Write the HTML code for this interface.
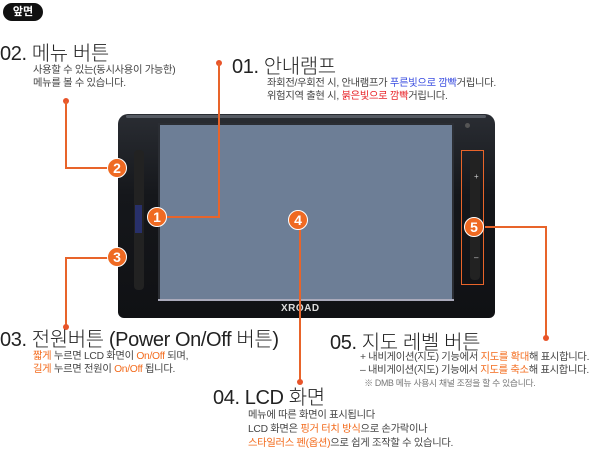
<!DOCTYPE html>
<html><head><meta charset="utf-8"><style>
*{margin:0;padding:0}
body{width:601px;height:467px;background:#fff;position:relative;overflow:hidden;font-family:"Liberation Sans","Noto Sans CJK KR",sans-serif;color:#444}
.a{position:absolute;white-space:nowrap}
.t{font-size:20px;color:#222;font-weight:300;letter-spacing:-0.4px}
.s{font-size:10.3px;line-height:13px;color:#444;letter-spacing:-0.3px}
.o{color:#f36c1e}.b{color:#3b4ee0}.r{color:#e8262b}
.l{position:absolute;background:#e8642a}
.d{position:absolute;width:6px;height:6px;border-radius:50%;background:#e8542a}
.n{position:absolute;width:18px;height:18px;border-radius:50%;background:#ef6a22;color:#fff;font-weight:bold;font-size:14px;line-height:18px;text-align:center;border:1px solid #fff}
</style></head><body>
<div class="a" style="left:3px;top:3px;width:40px;height:18px;background:#111;border-radius:9px;color:#fff;font-size:11px;font-weight:bold;line-height:18px;text-align:center">앞면</div>

<div class="a t" style="left:0;top:37px">02. 메뉴 버튼</div>
<div class="a s" style="left:33px;top:64px">사용할 수 있는(동시사용이 가능한)<br>메뉴를 볼 수 있습니다.</div>

<div class="a t" style="left:232px;top:50px">01. 안내램프</div>
<div class="a s" style="left:267px;top:77px">좌회전/우회전 시, 안내램프가 <span class="b">푸른빛으로 깜빡</span>거립니다.<br>위험지역 출현 시, <span class="r">붉은빛으로 깜빡</span>거립니다.</div>

<!-- device -->
<div class="a" style="left:118px;top:114px;width:377px;height:204px;background:linear-gradient(#2a2d33,#15171b 40%,#101114);border-radius:10px 10px 6px 6px"></div>
<div class="a" style="left:126px;top:115px;width:360px;height:3px;background:#555a62;border-radius:2px"></div>
<div class="a" style="left:158px;top:123px;width:296px;height:178px;background:#6d7e96;border:2px solid #2b2e34;box-sizing:border-box"></div>
<div class="a" style="left:158px;top:299px;width:296px;height:2px;background:#aab"></div>
<div class="a" style="left:281px;top:303px;color:#ddd;font-size:10px;font-weight:bold;letter-spacing:0.5px">XROAD</div>
<div class="a" style="left:134px;top:150px;width:10px;height:140px;background:#222;border-radius:4px"></div>
<div class="a" style="left:135px;top:205px;width:7px;height:28px;background:#28306a"></div>
<div class="a" style="left:470px;top:155px;width:10px;height:125px;background:#222;border-radius:4px"></div>
<div class="a" style="left:465px;top:123px;width:5px;height:5px;border-radius:50%;background:#555"></div>
<div class="a" style="left:474px;top:172px;color:#ccc;font-size:8px">+</div>
<div class="a" style="left:474px;top:253px;color:#ccc;font-size:8px">–</div>
<div class="a" style="left:461px;top:150px;width:23px;height:135px;border:1px solid #e8642a;box-sizing:border-box"></div>

<!-- connectors -->
<div class="d" style="left:63px;top:98px"></div>
<div class="l" style="left:65px;top:101px;width:2px;height:68px"></div>
<div class="l" style="left:65px;top:167px;width:45px;height:2px"></div>
<div class="d" style="left:216px;top:60px"></div>
<div class="l" style="left:218px;top:63px;width:2px;height:155px"></div>
<div class="l" style="left:165px;top:216px;width:55px;height:2px"></div>
<div class="l" style="left:65px;top:257px;width:45px;height:2px"></div>
<div class="l" style="left:65px;top:257px;width:2px;height:70px"></div>
<div class="d" style="left:63px;top:324px"></div>
<div class="l" style="left:299px;top:225px;width:2px;height:156px"></div>
<div class="d" style="left:297px;top:379px"></div>
<div class="l" style="left:485px;top:226px;width:61px;height:2px"></div>
<div class="l" style="left:545px;top:226px;width:2px;height:112px"></div>
<div class="d" style="left:543px;top:335px"></div>

<div class="n" style="left:107px;top:158px">2</div>
<div class="n" style="left:107px;top:247px">3</div>
<div class="n" style="left:147px;top:207px">1</div>
<div class="n" style="left:288px;top:210px">4</div>
<div class="n" style="left:464px;top:217px">5</div>

<div class="a t" style="left:0;top:323px">03. 전원버튼 (Power On/Off 버튼)</div>
<div class="a s" style="left:33px;top:350px"><span class="o">짧게</span> 누르면 LCD 화면이 <span class="o">On/Off</span> 되며,<br><span class="o">길게</span> 누르면 전원이 <span class="o">On/Off</span> 됩니다.</div>

<div class="a t" style="left:330px;top:326px">05. 지도 레벨 버튼</div>
<div class="a s" style="left:360px;top:351px">+ 내비게이션(지도) 기능에서 <span class="o">지도를 확대</span>해 표시합니다.<br>– 내비게이션(지도) 기능에서 <span class="o">지도를 축소</span>해 표시합니다.<br><span style="font-size:8.8px;color:#777">&nbsp;&nbsp;※ DMB 메뉴 사용시 채널 조정을 할 수 있습니다.</span></div>

<div class="a t" style="left:213px;top:381px">04. LCD 화면</div>
<div class="a s" style="left:248px;top:409px;line-height:14px">메뉴에 따른 화면이 표시됩니다<br>LCD 화면은 <span class="o">핑거 터치 방식</span>으로 손가락이나<br><span class="o">스타일러스 펜(옵션)</span>으로 쉽게 조작할 수 있습니다.</div>
</body></html>
